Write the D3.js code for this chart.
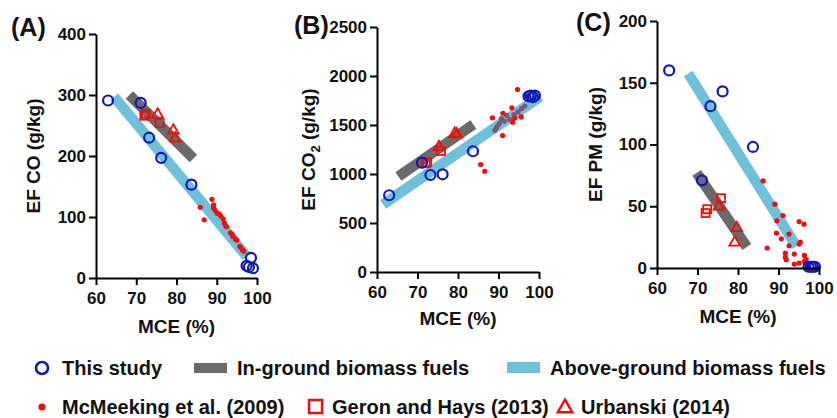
<!DOCTYPE html>
<html lang="en">
<head>
  <meta charset="utf-8" />
  <title>EF vs MCE</title>
  <script src="https://d3js.org/d3.v7.min.js"></script>
  <style>
    body { margin: 0; background: #fff; }
    svg { font-family: "Liberation Sans", Arial, sans-serif; font-weight: bold; }
    .axis path, .axis line { stroke: #000; stroke-width: 2; }
    .axis text { font-size: 17px; font-weight: bold; fill: #111; font-family: "Liberation Sans", Arial, sans-serif; }
  </style>
</head>
<body>
<script>
  // --- data ---
  var studyMCE = [63, 71.1, 73.2, 76.2, 83.7, 97.4, 98.0, 98.5, 99.0];
  var studyCO  = [291, 287, 230, 197, 153, 20, 18, 33, 16];
  var studyCO2 = [783, 1116, 990, 997, 1232, 1793, 1800, 1785, 1800];
  var studyPM  = [160, 71, 131, 143, 98, 1, 1, 1, 1];

  var geronMCE = [72.0, 72.4, 75.8];
  var geronCO  = [266, 269, 254];
  var geronCO2 = [1110, 1120, 1235];
  var geronPM  = [44.5, 47.6, 56.5];

  var urbMCE = [75.3, 79.2, 79.7];
  var urbCO  = [268, 242, 229];
  var urbCO2 = [1276, 1412, 1405];
  var urbPM  = [49.8, 20.7, 32.3];

  var mcmCO = [[85.9,116],[86.9,95.5],[88.8,129],[89.2,120],[89.2,115],[89.6,111],[90.1,106],[90.6,105],
    [91.0,102],[91.6,97],[91.9,90],[92.2,86],[92.4,84],[93.4,74],[93.8,72],[94.0,68],[94.6,64],[95.0,62],
    [95.7,52],[96.1,49],[96.4,46],[96.7,44]];
  var mcmCO2 = [[85.6,1096],[86.6,1028],[88.5,1573],[91.0,1392],[91.1,1620],[93.3,1675],[93.5,1528],
    [94.0,1571],[94.7,1862],[95.6,1582],[97.0,1790]];
  var mcmCO2onBand = [[89.1,1446],[89.5,1470],[89.9,1497],[90.3,1520],[90.7,1565],[91.5,1540],[92.0,1599],
    [92.8,1558],[93.8,1606],[94.8,1633],[95.7,1667],[96.5,1694]];
  var mcmPM = [[86.2,70.5],[89.1,51.7],[91.1,42.5],[95.1,37.6],[96.3,35.5],[89.6,38.2],[89.5,28.3],[90.7,23.7],
    [92.6,27.5],[87.2,16.2],[92.6,18],[95.1,19.4],[95.4,21],[91.7,12.1],[91.9,6.7],[93.9,11.3],[96.4,10.2],
    [91.7,8.8],[93.9,3.2],[95.1,4],[96.4,5.3],[97.0,3],[96.8,7]];

  // band end points [mce0, ef0, mce1, ef1]
  var inGroundCO  = [68.3, 300, 84.2, 196];
  var aboveCO     = [64.5, 297, 97.5, 35];
  var inGroundCO2 = [65.3, 975, 83.8, 1505];
  var aboveCO2    = [61.5, 690, 100.3, 1790];
  var inGroundPM  = [69.8, 77, 82.2, 17];
  var abovePM     = [67.7, 157.5, 94.4, 17.5];

  var xTicks = [60, 70, 80, 90, 100];
  var coTicks = [0, 100, 200, 300, 400];
  var co2Ticks = [0, 500, 1000, 1500, 2000, 2500];
  var pmTicks = [0, 50, 100, 150, 200];

  var legendRow1 = ["This study", "In-ground biomass fuels", "Above-ground biomass fuels"];
  var legendRow2 = ["McMeeking et al. (2009)", "Geron and Hays (2013)", "Urbanski (2014)"];

  var BLUE = "#0d18b8", RED = "#f20d0d", GREY = "#6a6a6a", SKY = "#6fc1da";

  var svg = d3.select("body").append("svg")
    .attr("width", 837)
    .attr("height", 418);

  var panels = [
    { tag: "(A)", tagX: 11, tagY: 36, left: 96, right: 257, top: 34, bottom: 278, yMax: 400, yTicks: coTicks,
      yLab: ["EF CO (g/kg)"], yLabX: 33, xLabOff: 55,
      study: studyCO, geron: geronCO, urb: urbCO, mcm: mcmCO, mcmBand: [], grey: inGroundCO, sky: aboveCO },
    { tag: "(B)", tagX: 294, tagY: 34, left: 377, right: 539, top: 27, bottom: 272, yMax: 2500, yTicks: co2Ticks,
      yLab: ["EF CO", "2", " (g/kg)"], yLabX: 308, xLabOff: 53,
      study: studyCO2, geron: geronCO2, urb: urbCO2, mcm: mcmCO2, mcmBand: mcmCO2onBand, grey: inGroundCO2, sky: aboveCO2 },
    { tag: "(C)", tagX: 576, tagY: 31, left: 657, right: 819, top: 21, bottom: 268, yMax: 200, yTicks: pmTicks,
      yLab: ["EF PM (g/kg)"], yLabX: 595, xLabOff: 55,
      study: studyPM, geron: geronPM, urb: urbPM, mcm: mcmPM, mcmBand: [], grey: inGroundPM, sky: abovePM }
  ];

  var tri = d3.symbol().type(d3.symbolTriangle).size(50);

  panels.forEach(function (p) {
    var x = d3.scaleLinear().domain([60, 100]).range([p.left, p.right]);
    var y = d3.scaleLinear().domain([0, p.yMax]).range([p.bottom, p.top]);
    var g = svg.append("g");

    // bands
    [[p.sky, SKY], [p.grey, GREY]].forEach(function (b) {
      g.append("line")
        .attr("x1", x(b[0][0])).attr("y1", y(b[0][1]))
        .attr("x2", x(b[0][2])).attr("y2", y(b[0][3]))
        .attr("stroke", b[1])
        .attr("stroke-width", 10.5);
    });

    // McMeeking dots sitting on the band (look purple in the figure)
    g.selectAll(".mb").data(p.mcmBand).enter().append("circle")
      .attr("cx", function (d) { return x(d[0]); })
      .attr("cy", function (d) { return y(d[1]); })
      .attr("r", 2.6)
      .attr("fill", "#7a5878");

    g.selectAll(".mc").data(p.mcm).enter().append("circle")
      .attr("cx", function (d) { return x(d[0]); })
      .attr("cy", function (d) { return y(d[1]); })
      .attr("r", 2.6)
      .attr("fill", RED);

    g.selectAll(".sq").data(geronMCE).enter().append("rect")
      .attr("x", function (d) { return x(d) - 4; })
      .attr("y", function (d, i) { return y(p.geron[i]) - 4; })
      .attr("width", 8).attr("height", 8)
      .attr("fill", "none").attr("stroke", RED).attr("stroke-width", 1.8);

    g.selectAll(".tr").data(urbMCE).enter().append("path")
      .attr("d", tri)
      .attr("transform", function (d, i) { return "translate(" + x(d) + "," + y(p.urb[i]) + ")"; })
      .attr("fill", "none").attr("stroke", RED).attr("stroke-width", 1.8);

    g.selectAll(".st").data(studyMCE).enter().append("circle")
      .attr("cx", function (d) { return x(d); })
      .attr("cy", function (d, i) { return y(p.study[i]); })
      .attr("r", 5)
      .attr("fill", "none").attr("stroke", BLUE).attr("stroke-width", 2.2);

    // axes
    g.append("g")
      .attr("class", "axis")
      .attr("transform", "translate(0," + p.bottom + ")")
      .call(d3.axisBottom(x).tickValues(xTicks).tickSize(7).tickPadding(7).tickSizeOuter(0));

    g.append("g")
      .attr("class", "axis")
      .attr("transform", "translate(" + p.left + ",0)")
      .call(d3.axisLeft(y).tickValues(p.yTicks).tickFormat(d3.format("d"))
        .tickSize(7).tickPadding(3).tickSizeOuter(0));

    g.append("text")
      .attr("x", (p.left + p.right) / 2)
      .attr("y", p.bottom + p.xLabOff)
      .attr("text-anchor", "middle")
      .attr("font-size", 19)
      .attr("fill", "#111")
      .text("MCE (%)");

    var yl = g.append("text")
      .attr("transform", "translate(" + p.yLabX + "," + (p.top + p.bottom) / 2 + ") rotate(-90)")
      .attr("text-anchor", "middle")
      .attr("dy", "0.35em")
      .attr("font-size", 19)
      .attr("fill", "#111");
    p.yLab.forEach(function (t, i) {
      var ts = yl.append("tspan").text(t);
      if (i === 1) ts.attr("font-size", 13).attr("dy", 5);
      if (i === 2) ts.attr("dy", -5);
    });

    g.append("text")
      .attr("x", p.tagX).attr("y", p.tagY)
      .attr("font-size", 25)
      .attr("fill", "#111")
      .text(p.tag);
  });

  // legend
  var leg = svg.append("g").attr("font-size", 20).attr("fill", "#111");
  var row1X = [62, 237, 550];
  var row2X = [62, 332, 581];

  leg.append("circle").attr("cx", 42).attr("cy", 368).attr("r", 6)
    .attr("fill", "none").attr("stroke", BLUE).attr("stroke-width", 2.6);
  leg.append("rect").attr("x", 194).attr("y", 363).attr("width", 33).attr("height", 10).attr("fill", GREY);
  leg.append("rect").attr("x", 507).attr("y", 362).attr("width", 33).attr("height", 11).attr("fill", SKY);
  leg.selectAll(".r1").data(legendRow1).enter().append("text")
    .attr("x", function (d, i) { return row1X[i]; })
    .attr("y", 375)
    .text(function (d) { return d; });

  leg.append("circle").attr("cx", 42).attr("cy", 407).attr("r", 3.6).attr("fill", RED);
  leg.append("rect").attr("x", 309).attr("y", 400).attr("width", 13).attr("height", 13)
    .attr("fill", "none").attr("stroke", RED).attr("stroke-width", 2.5);
  leg.append("path").attr("d", d3.symbol().type(d3.symbolTriangle).size(90))
    .attr("transform", "translate(565,408)")
    .attr("fill", "none").attr("stroke", RED).attr("stroke-width", 2.5);
  leg.selectAll(".r2").data(legendRow2).enter().append("text")
    .attr("x", function (d, i) { return row2X[i]; })
    .attr("y", 414)
    .text(function (d) { return d; });
</script>
</body>
</html>
